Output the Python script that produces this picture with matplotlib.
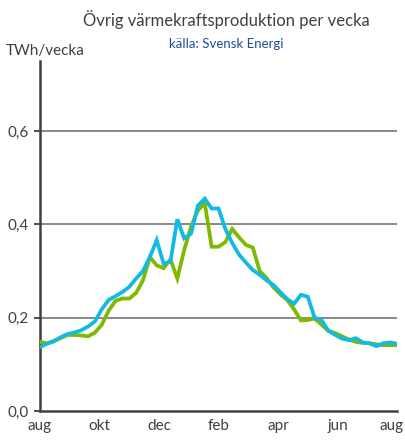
import numpy as np
import matplotlib
matplotlib.use("Agg")
import matplotlib.pyplot as plt
import matplotlib.transforms as mtransforms

plt.rcParams['font.family'] = ['Lato', 'DejaVu Sans']

weeks = list(range(53))
green = [0.148, 0.145, 0.150, 0.156, 0.163, 0.163, 0.162, 0.160, 0.168, 0.185,
         0.215, 0.236, 0.241, 0.241, 0.253, 0.280, 0.330, 0.312, 0.306, 0.325,
         0.284, 0.345, 0.395, 0.430, 0.445, 0.352, 0.352, 0.362, 0.390, 0.372,
         0.356, 0.350, 0.300, 0.285, 0.265, 0.250, 0.238, 0.218, 0.194, 0.195,
         0.198, 0.185, 0.172, 0.167, 0.160, 0.153, 0.148, 0.146, 0.145, 0.143,
         0.141, 0.141, 0.141]
blue = [0.137, 0.144, 0.149, 0.158, 0.165, 0.168, 0.173, 0.181, 0.192, 0.218,
        0.238, 0.246, 0.255, 0.266, 0.284, 0.300, 0.330, 0.366, 0.316, 0.320,
        0.411, 0.370, 0.380, 0.440, 0.455, 0.434, 0.434, 0.390, 0.360, 0.335,
        0.318, 0.302, 0.292, 0.280, 0.270, 0.255, 0.240, 0.230, 0.249, 0.245,
        0.200, 0.195, 0.172, 0.163, 0.155, 0.152, 0.156, 0.147, 0.145, 0.139,
        0.145, 0.147, 0.144]
month_labels = ['aug', 'okt', 'dec', 'feb', 'apr', 'jun', 'aug']
y_ticks = [0.0, 0.2, 0.4, 0.6]
y_labels = ['0,0', '0,2', '0,4', '0,6']

fig = plt.figure(figsize=(4.06, 4.40), dpi=100)
ax = fig.add_axes([40/406, 1-411/440, 357/406, 350/440])

txt = '#404040'
for v in y_ticks[1:]:
    ax.axhline(v, color='#808080', lw=1.3, zorder=1)
ax.plot(weeks, green, color='#7dba00', lw=2.7, zorder=3, solid_joinstyle='miter')
ax.plot(weeks, blue, color='#12b9e3', lw=2.7, zorder=4, solid_joinstyle='miter')

ax.set_xlim(0, 52)
ax.set_ylim(0, 0.75)
ax.set_yticks(y_ticks)
ax.set_yticklabels(y_labels)
ax.set_xticks(np.linspace(0, 52, 7))
ax.set_xticklabels(month_labels)
ax.tick_params(axis='y', length=4, width=1.3, color='#404040', labelsize=11, labelcolor=txt, pad=4)
ax.tick_params(axis='x', length=0, labelsize=11, labelcolor=txt, pad=6)
last = ax.get_xticklabels()[-1]
last.set_transform(last.get_transform() + mtransforms.ScaledTranslation(-5/100, 0, fig.dpi_scale_trans))
for s in ['top', 'right']:
    ax.spines[s].set_visible(False)
for s in ['left', 'bottom']:
    ax.spines[s].set_color('#404040')
    ax.spines[s].set_linewidth(1.8)

fig.text(226/406, 1-20/440, 'Övrig värmekraftsproduktion per vecka', ha='center', va='center',
         fontsize=12, color=txt)
fig.text(226/406, 1-44/440, 'källa: Svensk Energi', ha='center', va='center',
         fontsize=9.5, color='#1f4e99')
fig.text(6/406, 1-51/440, 'TWh/vecka', ha='left', va='center', fontsize=11, color=txt)

fig.savefig('out.png', dpi=100)
